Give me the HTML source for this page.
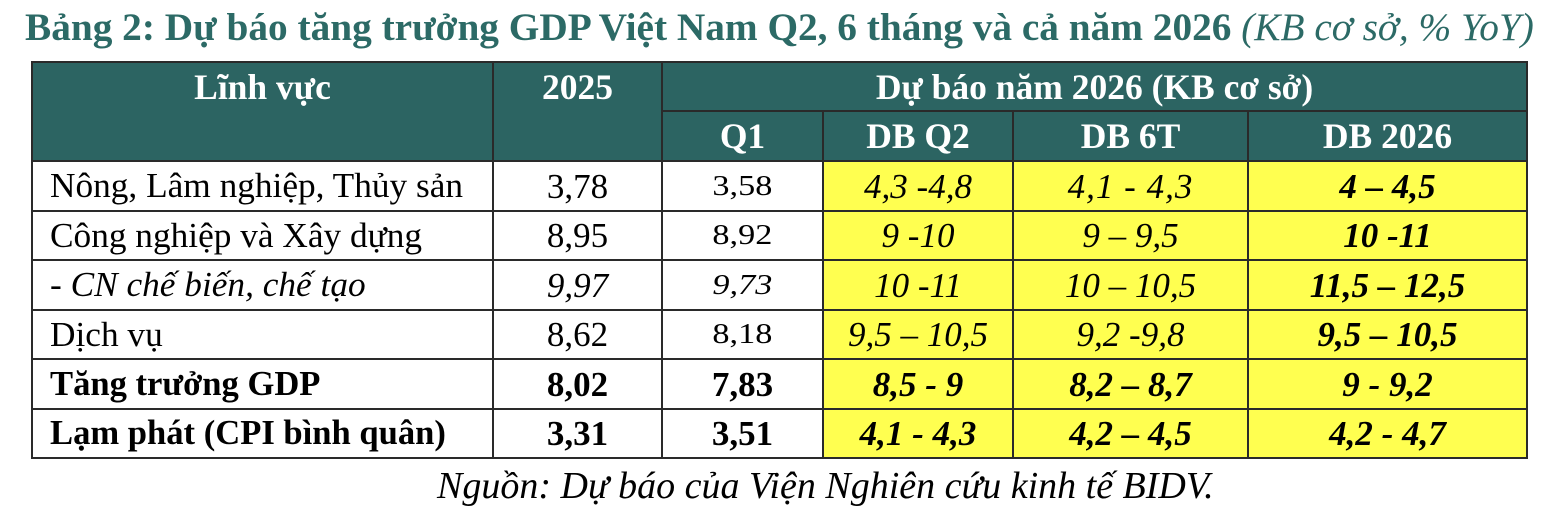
<!DOCTYPE html>
<html><head><meta charset="utf-8">
<style>
html,body{margin:0;padding:0;background:#fff;}
body{width:1548px;height:530px;position:relative;overflow:hidden;font-family:"Liberation Serif","Times New Roman",serif;color:#000;}
.t{position:absolute;left:25px;top:4px;font-size:39.3px;font-weight:bold;color:#2c6a66;white-space:nowrap;line-height:46px;}
.t i{font-weight:normal;}
.bg{position:absolute;}
.c{position:absolute;display:flex;align-items:center;justify-content:center;line-height:1;white-space:nowrap;font-size:35px;}
.l{justify-content:flex-start;padding-left:18px;box-sizing:border-box;font-size:35.3px;}
.l.b{font-size:34.6px;}
.h{color:#fff;font-weight:bold;font-size:35.5px;padding-top:2px;box-sizing:border-box;}
.s span{display:inline-block;font-size:29px;transform:scaleX(1.18);}
.i{font-style:italic;}
.b{font-weight:bold;}
.ln{position:absolute;background:#2a2a2a;}
.src{position:absolute;left:437px;top:466px;font-size:38px;font-style:italic;line-height:40px;white-space:nowrap;}
</style></head><body>
<div class="t">Bảng 2: Dự báo tăng trưởng GDP Việt Nam Q2, 6 tháng và cả năm 2026 <i>(KB cơ sở, % YoY)</i></div>

<div class="bg" style="left:32px;top:62px;width:1495px;height:99px;background:#2c6462;"></div>
<div class="bg" style="left:823px;top:161px;width:704px;height:297px;background:#ffff50;"></div>

<div class="c h" style="left:32px;top:62px;width:461px;height:49px;">Lĩnh vực</div>
<div class="c h" style="left:493px;top:62px;width:169px;height:49px;">2025</div>
<div class="c h" style="left:662px;top:62px;width:865px;height:49px;">Dự báo năm 2026 (KB cơ sở)</div>
<div class="c h" style="left:662px;top:111px;width:161px;height:50px;">Q1</div>
<div class="c h" style="left:823px;top:111px;width:190px;height:50px;">DB Q2</div>
<div class="c h" style="left:1013px;top:111px;width:235px;height:50px;">DB 6T</div>
<div class="c h" style="left:1248px;top:111px;width:279px;height:50px;">DB 2026</div>

<div class="c l" style="left:32px;top:161px;width:461px;height:50px;">Nông, Lâm nghiệp, Thủy sản</div>
<div class="c" style="left:493px;top:161px;width:169px;height:50px;">3,78</div>
<div class="c s" style="left:662px;top:161px;width:161px;height:50px;"><span>3,58</span></div>
<div class="c i" style="left:823px;top:161px;width:190px;height:50px;">4,3 -4,8</div>
<div class="c i" style="left:1013px;top:161px;width:235px;height:50px;letter-spacing:1px;">4,1 - 4,3</div>
<div class="c i b" style="left:1248px;top:161px;width:279px;height:50px;">4 – 4,5</div>

<div class="c l" style="left:32px;top:211px;width:461px;height:49px;">Công nghiệp và Xây dựng</div>
<div class="c" style="left:493px;top:211px;width:169px;height:49px;">8,95</div>
<div class="c s" style="left:662px;top:211px;width:161px;height:49px;"><span>8,92</span></div>
<div class="c i" style="left:823px;top:211px;width:190px;height:49px;">9 -10</div>
<div class="c i" style="left:1013px;top:211px;width:235px;height:49px;">9 – 9,5</div>
<div class="c i b" style="left:1248px;top:211px;width:279px;height:49px;">10 -11</div>

<div class="c l i" style="left:32px;top:260px;width:461px;height:50px;">- CN chế biến, chế tạo</div>
<div class="c i" style="left:493px;top:260px;width:169px;height:50px;">9,97</div>
<div class="c s i" style="left:662px;top:260px;width:161px;height:50px;"><span>9,73</span></div>
<div class="c i" style="left:823px;top:260px;width:190px;height:50px;">10 -11</div>
<div class="c i" style="left:1013px;top:260px;width:235px;height:50px;">10 – 10,5</div>
<div class="c i b" style="left:1248px;top:260px;width:279px;height:50px;">11,5 – 12,5</div>

<div class="c l" style="left:32px;top:310px;width:461px;height:49px;">Dịch vụ</div>
<div class="c" style="left:493px;top:310px;width:169px;height:49px;">8,62</div>
<div class="c s" style="left:662px;top:310px;width:161px;height:49px;"><span>8,18</span></div>
<div class="c i" style="left:823px;top:310px;width:190px;height:49px;">9,5 – 10,5</div>
<div class="c i" style="left:1013px;top:310px;width:235px;height:49px;">9,2 -9,8</div>
<div class="c i b" style="left:1248px;top:310px;width:279px;height:49px;">9,5 – 10,5</div>

<div class="c l b" style="left:32px;top:359px;width:461px;height:50px;">Tăng trưởng GDP</div>
<div class="c b" style="left:493px;top:359px;width:169px;height:50px;">8,02</div>
<div class="c b" style="left:662px;top:359px;width:161px;height:50px;">7,83</div>
<div class="c i b" style="left:823px;top:359px;width:190px;height:50px;">8,5 - 9</div>
<div class="c i b" style="left:1013px;top:359px;width:235px;height:50px;">8,2 – 8,7</div>
<div class="c i b" style="left:1248px;top:359px;width:279px;height:50px;">9 - 9,2</div>

<div class="c l b" style="left:32px;top:409px;width:461px;height:49px;">Lạm phát (CPI bình quân)</div>
<div class="c b" style="left:493px;top:409px;width:169px;height:49px;">3,31</div>
<div class="c b" style="left:662px;top:409px;width:161px;height:49px;">3,51</div>
<div class="c i b" style="left:823px;top:409px;width:190px;height:49px;">4,1 - 4,3</div>
<div class="c i b" style="left:1013px;top:409px;width:235px;height:49px;">4,2 – 4,5</div>
<div class="c i b" style="left:1248px;top:409px;width:279px;height:49px;">4,2 - 4,7</div>

<div class="ln" style="left:31px;top:61px;width:1497px;height:2px;"></div>
<div class="ln" style="left:662px;top:110px;width:865px;height:2px;"></div>
<div class="ln" style="left:31px;top:160px;width:1497px;height:2px;"></div>
<div class="ln" style="left:31px;top:210px;width:1497px;height:2px;"></div>
<div class="ln" style="left:31px;top:259px;width:1497px;height:2px;"></div>
<div class="ln" style="left:31px;top:309px;width:1497px;height:2px;"></div>
<div class="ln" style="left:31px;top:358px;width:1497px;height:2px;"></div>
<div class="ln" style="left:31px;top:408px;width:1497px;height:2px;"></div>
<div class="ln" style="left:31px;top:457px;width:1497px;height:2px;"></div>
<div class="ln" style="left:31px;top:61px;width:2px;height:398px;"></div>
<div class="ln" style="left:492px;top:61px;width:2px;height:398px;"></div>
<div class="ln" style="left:661px;top:61px;width:2px;height:398px;"></div>
<div class="ln" style="left:822px;top:110px;width:2px;height:349px;"></div>
<div class="ln" style="left:1012px;top:110px;width:2px;height:349px;"></div>
<div class="ln" style="left:1247px;top:110px;width:2px;height:349px;"></div>
<div class="ln" style="left:1526px;top:61px;width:2px;height:398px;"></div>

<div class="src">Nguồn: Dự báo của Viện Nghiên cứu kinh tế BIDV.</div>
</body></html>
